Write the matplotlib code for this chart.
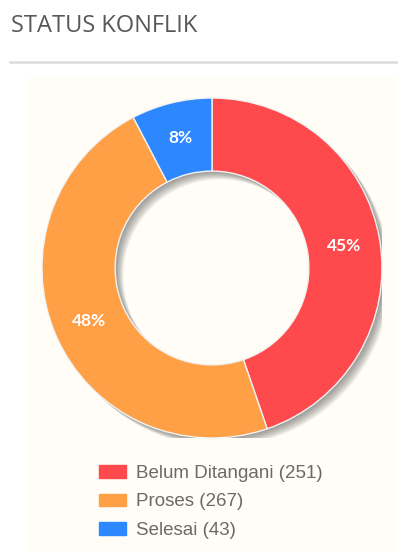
import matplotlib.pyplot as plt
from matplotlib.patches import Wedge, Rectangle
from matplotlib.lines import Line2D

# data
labels = ['Belum Ditangani', 'Proses', 'Selesai']
counts = [251, 267, 43]
colors = ['#FF4A4D', '#FFA047', '#2D87FF']

W, H = 398, 551
fig = plt.figure(figsize=(W / 100, H / 100), dpi=100)
fig.patch.set_facecolor('white')

# cream panel behind the chart
fig.add_artist(Rectangle((28 / W, 0), 1, (H - 78) / H, transform=fig.transFigure,
                         facecolor='#FFFDF5', edgecolor='none', zorder=0))

# title and rule
fig.text(11 / W, 1 - 26 / H, 'STATUS KONFLIK', fontsize=17, color='#585858',
         family=['Open Sans', 'DejaVu Sans'], fontweight='medium',
         va='center', ha='left')
fig.add_artist(Line2D([10 / W, 1], [1 - 62 / H, 1 - 62 / H], color='#DCDCDC', lw=1.8))

# donut
cx, cy, r = 212, 268, 170
ax = fig.add_axes([(cx - r) / W, (H - cy - r) / H, 2 * r / W, 2 * r / H])
ax.set_xlim(-1, 1)
ax.set_ylim(-1, 1)
ax.set_aspect('equal')
ax.axis('off')

ring = 0.43
# soft shadow, offset down-right
for k in range(10):
    off = 0.008 + k * 0.0045
    ax.add_patch(Wedge((off, -off), 1.0, 0, 360, width=ring,
                       facecolor='#4a4a4a', alpha=0.065, lw=0, zorder=1))

wedges, texts, autotexts = ax.pie(
    counts, colors=colors, startangle=90, counterclock=False,
    radius=1.0, autopct='%.0f%%', pctdistance=0.785,
    wedgeprops=dict(width=ring, edgecolor='#F2F2F2', linewidth=1.0),
    textprops=dict(color='white', fontsize=12.5, fontweight='bold',
                   family=['Lato', 'DejaVu Sans']))
for w in wedges:
    w.set_zorder(3)
for t in autotexts:
    t.set_zorder(4)
ax.set_xlim(-1, 1)
ax.set_ylim(-1, 1)

# legend
handles = [Rectangle((0, 0), 1, 1, color=c) for c in colors]
leg_labels = ['%s (%d)' % (l, n) for l, n in zip(labels, counts)]
leg = fig.legend(handles, leg_labels, loc='center left',
                 bbox_to_anchor=(99 / W, 1 - 502 / H), frameon=False,
                 borderpad=0, borderaxespad=0,
                 handlelength=1.46, handleheight=0.65, handletextpad=0.5,
                 labelspacing=0.62,
                 prop=dict(family=['Liberation Sans', 'DejaVu Sans'], size=13.5))
for t in leg.get_texts():
    t.set_color('#6a6a6a')

fig.savefig('out.png', dpi=100)
